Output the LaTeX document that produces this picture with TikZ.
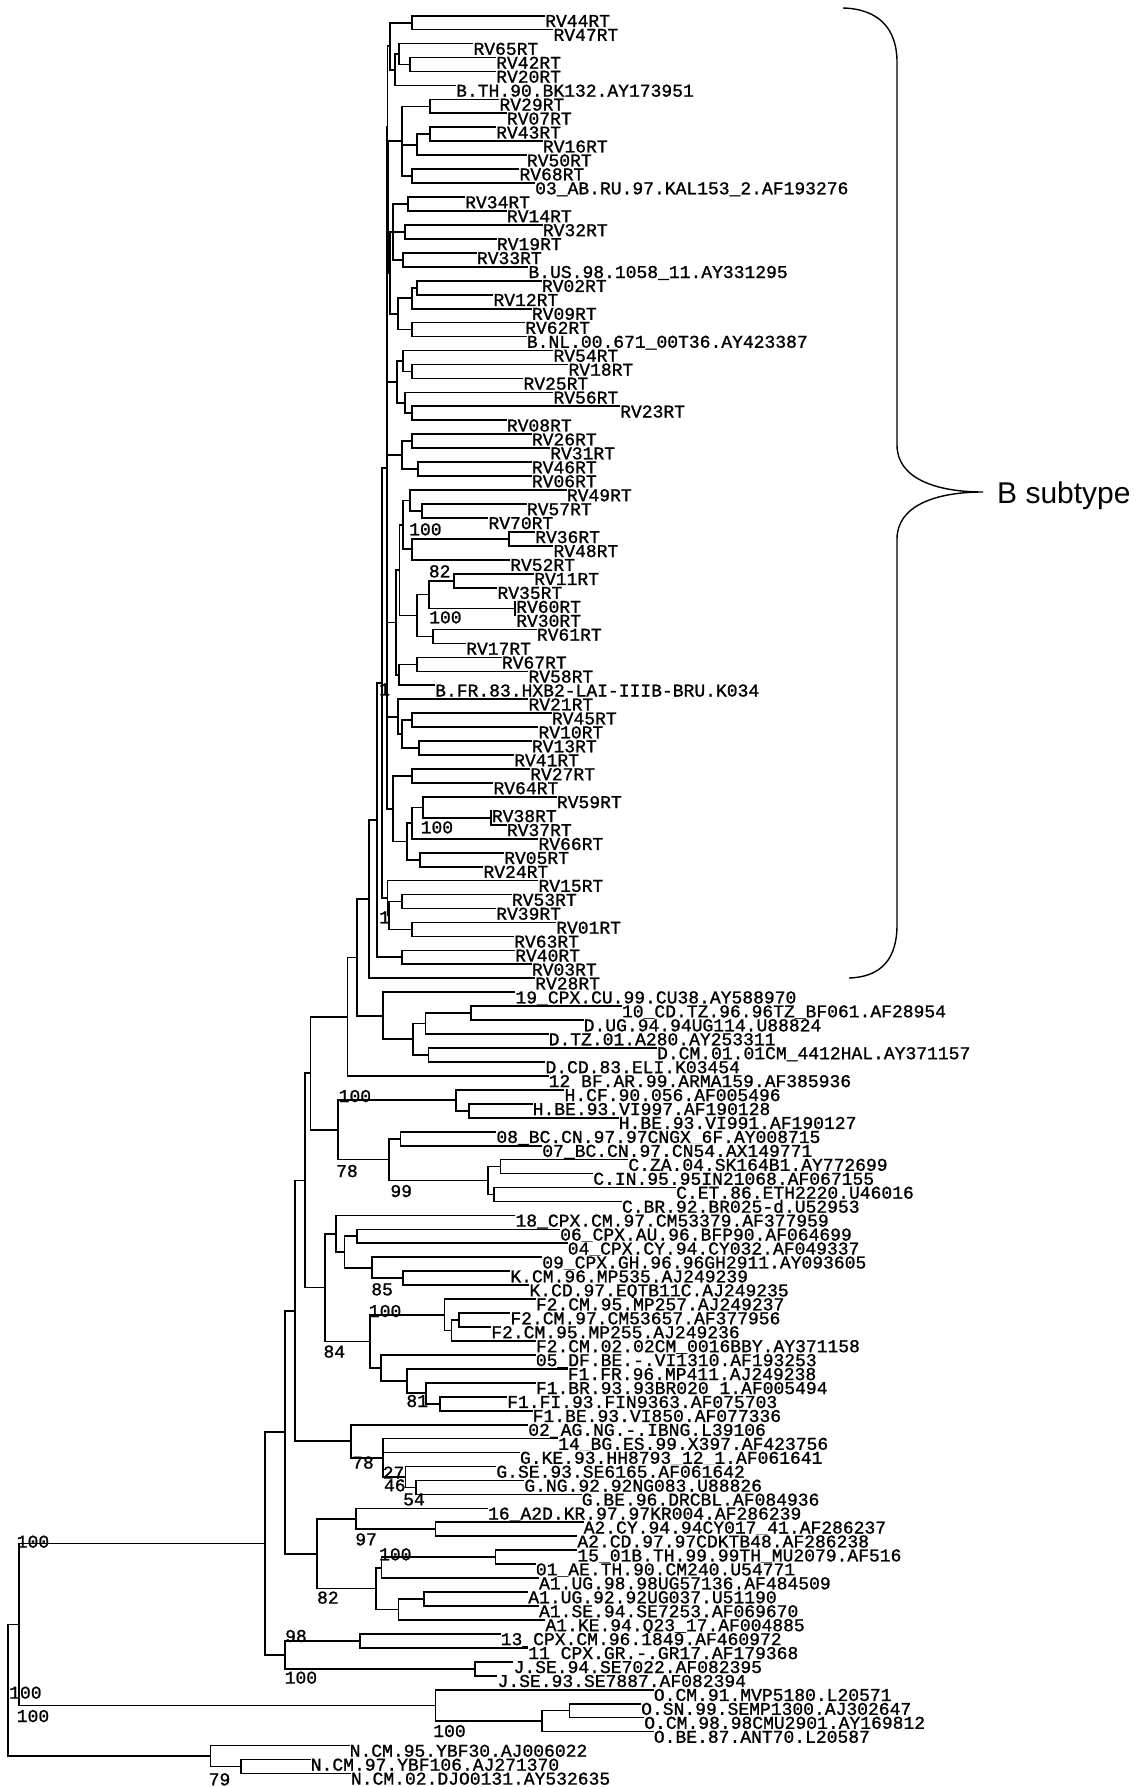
\documentclass[tikz,border=0pt]{standalone}
\usepackage{fontspec}
\newfontfamily\treefont[FakeBold=1.2]{Liberation Mono}
\newfontfamily\subfont{Liberation Sans}
\usetikzlibrary{calc,backgrounds}

% clade: name, x, top child, bottom child (node sits halfway between them)
\newcommand\clade[4]{%
  \path let \p1=(#3), \p2=(#4) in ({#2pt},{(\y1+\y2)/2}) coordinate (#1);
  \draw[branch] (#3) -| (#1) |- (#4);
}
% extra child of a clade that has more than two
\newcommand\twig[2]{\draw[branch] (#1 |- #2) -- (#2);}

\tikzset{
  branch/.style={line width=1.7pt,line join=miter},
  leaf/.style={anchor=base west,inner sep=0pt,fill=white,text height=12.6pt,text depth=1.2pt,
    font=\treefont\fontsize{18}{18}\selectfont},
  bsl/.style={anchor=base west,inner sep=0pt,font=\treefont\fontsize{18}{18}\selectfont},
  sub/.style={anchor=base west,inner sep=0pt,font=\subfont\fontsize{30}{30}\selectfont},
  brace/.style={line width=1.4pt}
}

\begin{document}
\begin{tikzpicture}[x=1pt,y=-1pt]
\useasboundingbox (0,0) rectangle (1137,1787);

% ---- leaves ----
\foreach \xe/\lab [count=\i] in {
  545.0/RV44RT, 553.3/RV47RT, 473.3/RV65RT, 496/RV42RT, 496/RV20RT,
  456/B.TH.90.BK132.AY173951, 499.3/RV29RT, 506.7/RV07RT, 496/RV43RT, 542.7/RV16RT,
  526.7/RV50RT, 519.3/RV68RT, 535/03\_AB.RU.97.KAL153\_2.AF193276, 465/RV34RT, 506.7/RV14RT,
  542.7/RV32RT, 496.7/RV19RT, 476.7/RV33RT, 528.3/B.US.98.1058\_11.AY331295, 541.7/RV02RT,
  493.3/RV12RT, 531.7/RV09RT, 525/RV62RT, 526.7/B.NL.00.671\_00T36.AY423387, 553.3/RV54RT,
  568.3/RV18RT, 523.3/RV25RT, 553.3/RV56RT, 620/RV23RT, 506.7/RV08RT,
  531.7/RV26RT, 550/RV31RT, 531.7/RV46RT, 531.7/RV06RT, 566.7/RV49RT,
  526.7/RV57RT, 488.3/RV70RT, 535/RV36RT, 553.3/RV48RT, 510/RV52RT,
  534/RV11RT, 497.3/RV35RT, 516/RV60RT, 516/RV30RT, 536.7/RV61RT,
  466/RV17RT, 501.7/RV67RT, 528.3/RV58RT, 435/B.FR.83.HXB2-LAI-IIIB-BRU.K034, 528.3/RV21RT,
  551.7/RV45RT, 538.3/RV10RT, 531.7/RV13RT, 514/RV41RT, 530/RV27RT,
  493.3/RV64RT, 556.7/RV59RT, 491.7/RV38RT, 506.7/RV37RT, 538.3/RV66RT,
  504/RV05RT, 483.3/RV24RT, 538.3/RV15RT, 511.7/RV53RT, 496/RV39RT,
  556/RV01RT, 514/RV63RT, 515/RV40RT, 531.7/RV03RT, 535/RV28RT,
  515.3/19\_CPX.CU.99.CU38.AY588970, 621.8/10\_CD.TZ.96.96TZ\_BF061.AF28954,
  583.5/D.UG.94.94UG114.U88824, 548.5/D.TZ.01.A280.AY253311,
  656.9/D.CM.01.01CM\_4412HAL.AY371157, 545.3/D.CD.83.ELI.K03454,
  548.5/12\_BF.AR.99.ARMA159.AF385936, 564.4/H.CF.90.056.AF005496,
  532.5/H.BE.93.VI997.AF190128, 618.6/H.BE.93.VI991.AF190127,
  496.2/08\_BC.CN.97.97CNGX\_6F.AY008715, 542.1/07\_BC.CN.97.CN54.AX149771,
  628.2/C.ZA.04.SK164B1.AY772699, 593.1/C.IN.95.95IN21068.AF067155,
  676/C.ET.86.ETH2220.U46016, 621.8/C.BR.92.BR025-d.U52953,
  515.3/18\_CPX.CM.97.CM53379.AF377959, 560/06\_CPX.AU.96.BFP90.AF064699,
  567.6/04\_CPX.CY.94.CY032.AF049337, 542.1/09\_CPX.GH.96.96GH2911.AY093605,
  510.2/K.CM.96.MP535.AJ249239, 529.3/K.CD.97.EQTB11C.AJ249235,
  535.7/F2.CM.95.MP257.AJ249237, 510.2/F2.CM.97.CM53657.AF377956,
  491.1/F2.CM.95.MP255.AJ249236, 535.7/F2.CM.02.02CM\_0016BBY.AY371158,
  535.7/05\_DF.BE.-.VI1310.AF193253, 567.6/F1.FR.96.MP411.AJ249238,
  535.7/F1.BR.93.93BR020\_1.AF005494, 507/F1.FI.93.FIN9363.AF075703,
  532.5/F1.BE.93.VI850.AF077336, 528.1/02\_AG.NG.-.IBNG.L39106,
  558/14\_BG.ES.99.X397.AF423756, 519.8/G.KE.93.HH8793\_12\_1.AF061641,
  496.2/G.SE.93.SE6165.AF061642, 524.2/G.NG.92.92NG083.U88826,
  581.6/G.BE.96.DRCBL.AF084936, 487.9/16\_A2D.KR.97.97KR004.AF286239,
  583.5/A2.CY.94.94CY017\_41.AF286237, 577.2/A2.CD.97.97CDKTB48.AF286238,
  577.2/15\_01B.TH.99.99TH\_MU2079.AF516, 535.7/01\_AE.TH.90.CM240.U54771,
  538.9/A1.UG.98.98UG57136.AF484509, 528.1/A1.UG.92.92UG037.U51190,
  538.9/A1.SE.94.SE7253.AF069670, 545.3/A1.KE.94.Q23\_17.AF004885,
  500.6/13\_CPX.CM.96.1849.AF460972, 528.1/11\_CPX.GR.-.GR17.AF179368,
  513.4/J.SE.94.SE7022.AF082395, 497.4/J.SE.93.SE7887.AF082394,
  653.7/O.CM.91.MVP5180.L20571, 641/O.SN.99.SEMP1300.AJ302647,
  644.1/O.CM.98.98CMU2901.AY169812, 653.7/O.BE.87.ANT70.L20587,
  349.5/N.CM.95.YBF30.AJ006022, 310.6/N.CM.97.YBF106.AJ271370,
  350.8/N.CM.02.DJO0131.AY532635} {
  \coordinate (l\i) at (\xe,{15.7+13.95*(\i-1)});
  \node[leaf] (t\i) at ([yshift=-11.2pt]l\i) {\lab};
}

\begin{scope}[on background layer]
\fill[white] (0,0) rectangle (1137,1787);
% ---- B subtype ----
\clade{b12}{411.7}{l1}{l2}
\clade{b45}{410}{l4}{l5}
\clade{b345}{399.3}{l3}{b45}
\clade{b3456}{395}{b345}{l6}
\clade{g1}{390}{b12}{b3456}
\clade{b78}{430}{l7}{l8}
\clade{b910}{430}{l9}{l10}
\clade{b911}{416.7}{b910}{l11}
\clade{b1213}{411.7}{l12}{l13}
\clade{g2}{401.7}{b78}{b1213}
\twig{g2}{b911}
\clade{b1415}{408.3}{l14}{l15}
\clade{b1617}{405}{l16}{l17}
\clade{b1819}{403.3}{l18}{l19}
\clade{g3}{393.3}{b1415}{b1819}
\twig{g3}{b1617}
\clade{b2021}{416.7}{l20}{l21}
\clade{b2022}{411.7}{b2021}{l22}
\clade{b2324}{411.7}{l23}{l24}
\clade{g4}{398.3}{b2022}{b2324}
\clade{n34}{390}{g3}{g4}
\clade{n24}{388.5}{g2}{n34}
\clade{n14}{387.5}{g1}{n24}
\clade{b2627}{411.7}{l26}{l27}
\clade{b2527}{403.3}{l25}{b2627}
\clade{b2930}{411.7}{l29}{l30}
\clade{b2830}{405}{l28}{b2930}
\clade{g5}{396.7}{b2527}{b2830}
\clade{b3132}{411.7}{l31}{l32}
\clade{b3334}{418.3}{l33}{l34}
\clade{g6}{401.7}{b3132}{b3334}
\clade{b3637}{421.7}{l36}{l37}
\clade{b3537}{410}{l35}{b3637}
\clade{b3839}{509.3}{l38}{l39}
\clade{b3840}{411.7}{b3839}{l40}
\clade{g7a}{403.3}{b3537}{b3840}
\clade{b4142}{454}{l41}{l42}
\clade{b4344}{515}{l43}{l44}
\clade{b4144}{429.3}{b4142}{b4344}
\clade{b4546}{432.7}{l45}{l46}
\clade{b4146}{416.7}{b4144}{b4546}
\clade{g7}{399.5}{g7a}{b4146}
\clade{b4748}{416.7}{l47}{l48}
\clade{g8}{399.3}{b4748}{l49}
\clade{g78}{395.7}{g7}{g8}
\clade{b5152}{411.7}{l51}{l52}
\clade{b5354}{419.3}{l53}{l54}
\clade{b5154}{401.7}{b5152}{b5354}
\clade{g9}{397.7}{l50}{b5154}
\clade{b5556}{411.7}{l55}{l56}
\clade{b5859}{490.7}{l58}{l59}
\clade{b5759}{423.3}{l57}{b5859}
\clade{b5760}{411.7}{b5759}{l60}
\clade{b6162}{420}{l61}{l62}
\clade{b5762}{406.7}{b5760}{b6162}
\clade{g10}{393.3}{b5556}{b5762}
\clade{bt}{386.7}{n14}{g10}
\twig{bt}{g5}
\twig{bt}{g6}
\twig{bt}{g78}
\twig{bt}{g9}
\clade{b6465}{401.7}{l64}{l65}
\clade{b6667}{411.7}{l66}{l67}
\clade{b6467}{389}{b6465}{b6667}
\clade{g11}{387.5}{l63}{b6467}
\clade{g12}{401.7}{l68}{l69}
\clade{bx}{381.7}{bt}{g11}
\clade{bm}{377.3}{bx}{g12}
\clade{broot}{369}{bm}{l70}
% ---- D, 19, 12 ----
\clade{d7273}{470.7}{l72}{l73}
\clade{d7274}{425.4}{d7273}{l74}
\clade{d7576}{428.6}{l75}{l76}
\clade{d7276}{413.3}{d7274}{d7576}
\clade{d7176}{382.7}{l71}{d7276}
\clade{m1}{357.1}{broot}{d7176}
\clade{m2}{347.6}{m1}{l77}
% ---- H, C ----
\clade{h7980}{468.7}{l79}{l80}
\clade{h7880}{456}{l78}{h7980}
\clade{c8182}{400.5}{l81}{l82}
\clade{c8384}{500.6}{l83}{l84}
\clade{c8586}{494.3}{l85}{l86}
\clade{c8386}{487.9}{c8384}{c8586}
\clade{c8186}{389}{c8182}{c8386}
\clade{hc}{338}{h7880}{c8186}
\clade{m3}{310.6}{m2}{hc}
% ---- CPX, K, F ----
\clade{k8889}{357.1}{l88}{l89}
\clade{k9192}{403.1}{l91}{l92}
\clade{k9092}{371.8}{l90}{k9192}
\clade{k8892}{344.4}{k8889}{k9092}
\clade{k8792}{336.1}{l87}{k8892}
\clade{f9495}{459.2}{l94}{l95}
\clade{f9496}{451.5}{f9495}{l96}
\clade{f9396}{444.5}{l93}{f9496}
\clade{f100}{440}{l100}{l101}
\clade{f99}{426}{l99}{f100}
\clade{f98}{406.9}{l98}{f99}
\clade{f97}{380.7}{l97}{f98}
\clade{ff}{369.9}{f9396}{f97}
\clade{kf}{325.3}{k8792}{ff}
\clade{m4}{304.8}{m3}{kf}
% ---- AG, G ----
\clade{g106}{415.8}{l106}{l107}
\clade{g105}{405.6}{l105}{g106}
\clade{gq}{382.7}{l103}{g105}
\twig{gq}{l104}
\clade{ag}{350.8}{l102}{gq}
\clade{m5}{295.3}{m4}{ag}
% ---- A ----
\clade{a109}{435.6}{l109}{l110}
\clade{a108}{355.9}{l108}{a109}
\clade{a111}{495.5}{l111}{l112}
\clade{a113}{381.4}{a111}{l113}
\clade{a114}{424.1}{l114}{l115}
\clade{a116}{398.6}{a114}{l116}
\clade{a1}{376.3}{a113}{a116}
\clade{aa}{317}{a108}{a1}
\clade{m6}{285}{m5}{aa}
% ---- J, O, N ----
\clade{j117}{360.3}{l117}{l118}
\clade{j119}{475.1}{l119}{l120}
\clade{jj}{285}{j117}{j119}
\clade{m7}{264.7}{m6}{jj}
\clade{o122}{569.5}{l122}{l123}
\clade{o124}{542.1}{o122}{l124}
\clade{oo}{435.6}{l121}{o124}
\clade{m8}{19.1}{m7}{oo}
\clade{n126}{241.1}{l126}{l127}
\clade{nn}{210.5}{l125}{n126}
\clade{root}{7.7}{m8}{nn}
\end{scope}

% ---- bootstrap values ----
\node[bsl] (s1) at (409,535.3) {100};
\node[bsl] (s2) at (428.7,577.3) {82};
\node[bsl] (s3) at (429,623.3) {100};
\node[bsl] (s4) at (420.5,833.3) {100};
\node[bsl] (s5) at (379,695.3) {1};
\node[bsl] (s6) at (379,923.3) {1};
\node[bsl] (s7) at (338.5,1102) {100};
\node[bsl] (s8) at (336,1177) {78};
\node[bsl] (s9) at (390.2,1197) {99};
\node[bsl] (s10) at (371.1,1295.3) {85};
\node[bsl] (s11) at (368.7,1317) {100};
\node[bsl] (s12) at (323.3,1357.6) {84};
\node[bsl] (s13) at (406.2,1407) {81};
\node[bsl] (s14) at (352,1468.6) {78};
\node[bsl] (s15) at (382.6,1478.6) {27};
\node[bsl] (s16) at (383.8,1491.3) {46};
\node[bsl] (s17) at (403,1505.3) {54};
\node[bsl] (s18) at (355.1,1545.3) {97};
\node[bsl] (s19) at (378.9,1560.3) {100};
\node[bsl] (s20) at (316.9,1603.6) {82};
\node[bsl] (s21) at (16.6,1547.6) {100};
\node[bsl] (s22) at (285,1642) {98};
\node[bsl] (s23) at (284.5,1683.6) {100};
\node[bsl] (s24) at (9,1698.6) {100};
\node[bsl] (s25) at (16.6,1722) {100};
\node[bsl] (s26) at (433.1,1737) {100};
\node[bsl] (s27) at (208.5,1785.3) {79};

% ---- B subtype brace ----
\coordinate (btop) at (843,8);
\coordinate (bbot) at (849,978);
\coordinate (btip) at (983,492);
\draw[brace] (btop) .. controls (880,9) and (897,30) .. (897,62) -- (897,445)
  .. controls (897,478) and (935,492) .. (btip)
  .. controls (935,492) and (897,506) .. (897,539) -- (897,925)
  .. controls (897,958) and (882,977) .. (bbot);
\node[sub] (bsub) at (997,503) {B subtype};
\end{tikzpicture}
\end{document}
